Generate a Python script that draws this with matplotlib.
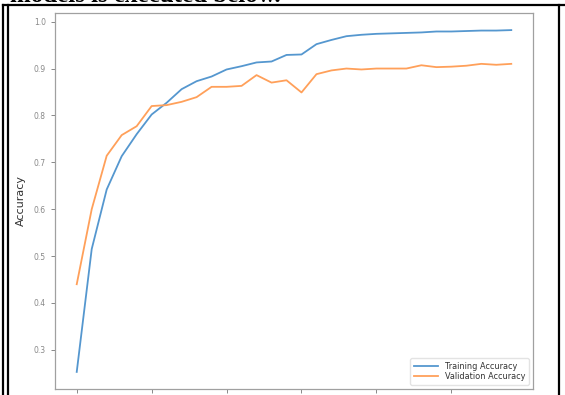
import numpy as np
import matplotlib
matplotlib.use("Agg")
import matplotlib.pyplot as plt
from matplotlib.lines import Line2D

# per-epoch accuracy history
epochs = list(range(30))
train_acc = [0.253, 0.515, 0.642, 0.713, 0.760, 0.802, 0.827, 0.856, 0.873, 0.883,
             0.898, 0.905, 0.913, 0.915, 0.929, 0.930, 0.952, 0.961, 0.969, 0.972,
             0.974, 0.975, 0.976, 0.977, 0.979, 0.979, 0.980, 0.981, 0.981, 0.982]
val_acc = [0.440, 0.600, 0.714, 0.758, 0.777, 0.820, 0.822, 0.829, 0.839, 0.861,
           0.861, 0.863, 0.886, 0.870, 0.875, 0.849, 0.888, 0.896, 0.900, 0.898,
           0.900, 0.900, 0.900, 0.907, 0.903, 0.904, 0.906, 0.910, 0.908, 0.910]
x_ticks = [0, 5, 10, 15, 20, 25]
y_ticks = [0.3, 0.4, 0.5, 0.6, 0.7, 0.8, 0.9, 1.0]

W, H = 565, 395
fig = plt.figure(figsize=(W / 100, H / 100), dpi=100)
fig.patch.set_facecolor("white")

ax = fig.add_axes([55 / W, 1 - 389 / H, (533 - 55) / W, (389 - 13) / H])
ax.plot(epochs, train_acc, color="#5597cf", lw=1.3, label="Training Accuracy")
ax.plot(epochs, val_acc, color="#ffa05a", lw=1.3, label="Validation Accuracy")

ax.set_xticks(x_ticks)
ax.set_yticks(y_ticks)
ax.set_yticklabels(["{0:.1f}".format(v) for v in y_ticks])
ax.tick_params(colors="#888888", labelsize=5.5, length=3, width=0.7)
ax.tick_params(axis="x", labelbottom=False)
for s in ax.spines.values():
    s.set_color("#a0a0a0")
    s.set_linewidth(0.9)
ax.set_ylabel("Accuracy", fontsize=8, color="#333333", labelpad=6)

leg = ax.legend(loc="lower right", fontsize=5.9, handlelength=3.0,
                labelspacing=0.2, borderpad=0.45, frameon=True)
leg.get_frame().set_edgecolor("#dddddd")
for t in leg.get_texts():
    t.set_color("#333333")

# caption line running off the top edge
fig.text(10 / W, 1 - 1.5 / H, "models is executed below.", fontsize=18,
         family="Liberation Serif", weight="bold", va="baseline", ha="left")

# page frame around the figure
def px_line(xs, ys, lw=1.6):
    fig.add_artist(Line2D([x / W for x in xs], [1 - y / H for y in ys],
                          color="black", lw=lw, transform=fig.transFigure))

px_line([3, 3], [5, H])
px_line([8, 8], [5, H])
px_line([3, W], [5, 5])
px_line([559, 559], [5, H])

fig.savefig("out.png", dpi=100)
